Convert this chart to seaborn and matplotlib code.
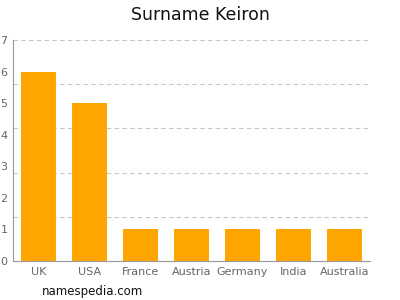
import matplotlib
matplotlib.use("Agg")
import matplotlib.pyplot as plt
import seaborn as sns
import pandas as pd

countries = ["UK", "USA", "France", "Austria", "Germany", "India", "Australia"]
counts = [6, 5, 1, 1, 1, 1, 1]
yticks = [0, 1, 2, 3, 4, 5, 6, 7]
gridlines = [1.4, 2.8, 4.2, 5.6, 7.0]

sns.set_style("white")
plt.rcParams['font.family'] = ['DejaVu Sans']

df = pd.DataFrame({"country": countries, "count": counts})

fig = plt.figure(figsize=(4, 3), dpi=100)
ax = fig.add_axes([13/400, 1 - 261/300, 357/400, 221/300])

sns.barplot(data=df, x="country", y="count", color="#FFA500", saturation=1,
            width=0.69, linewidth=0, edgecolor="none", ax=ax)
for g in gridlines:
    ax.axhline(g, color="#c8c8c8", linestyle=(0, (4, 3)), linewidth=0.8, zorder=0)

ax.set_ylim(0, 7)
ax.set_xlim(-0.5, len(countries) - 0.5)
ax.set_yticks(yticks)
ax.set_yticklabels([str(v) for v in yticks])
ax.set_xlabel("")
ax.set_ylabel("")
for s in ["top", "right"]:
    ax.spines[s].set_visible(False)
for s in ["left", "bottom"]:
    ax.spines[s].set_color("#999999")
    ax.spines[s].set_linewidth(0.8)
ax.tick_params(axis="y", length=3, color="#999999", labelsize=8, labelcolor="#666666", pad=1)
ax.tick_params(axis="x", length=0, labelsize=8, labelcolor="#666666", pad=4)

fig.text(0.5, 1 - 15/300, "Surname Keiron", ha="center", va="center", fontsize=12.5, color="#111111")
fig.text(42/400, 1 - 292/300, "namespedia.com", ha="left", va="center", fontsize=8.5, color="#111111")

fig.savefig("out.png", dpi=100)
